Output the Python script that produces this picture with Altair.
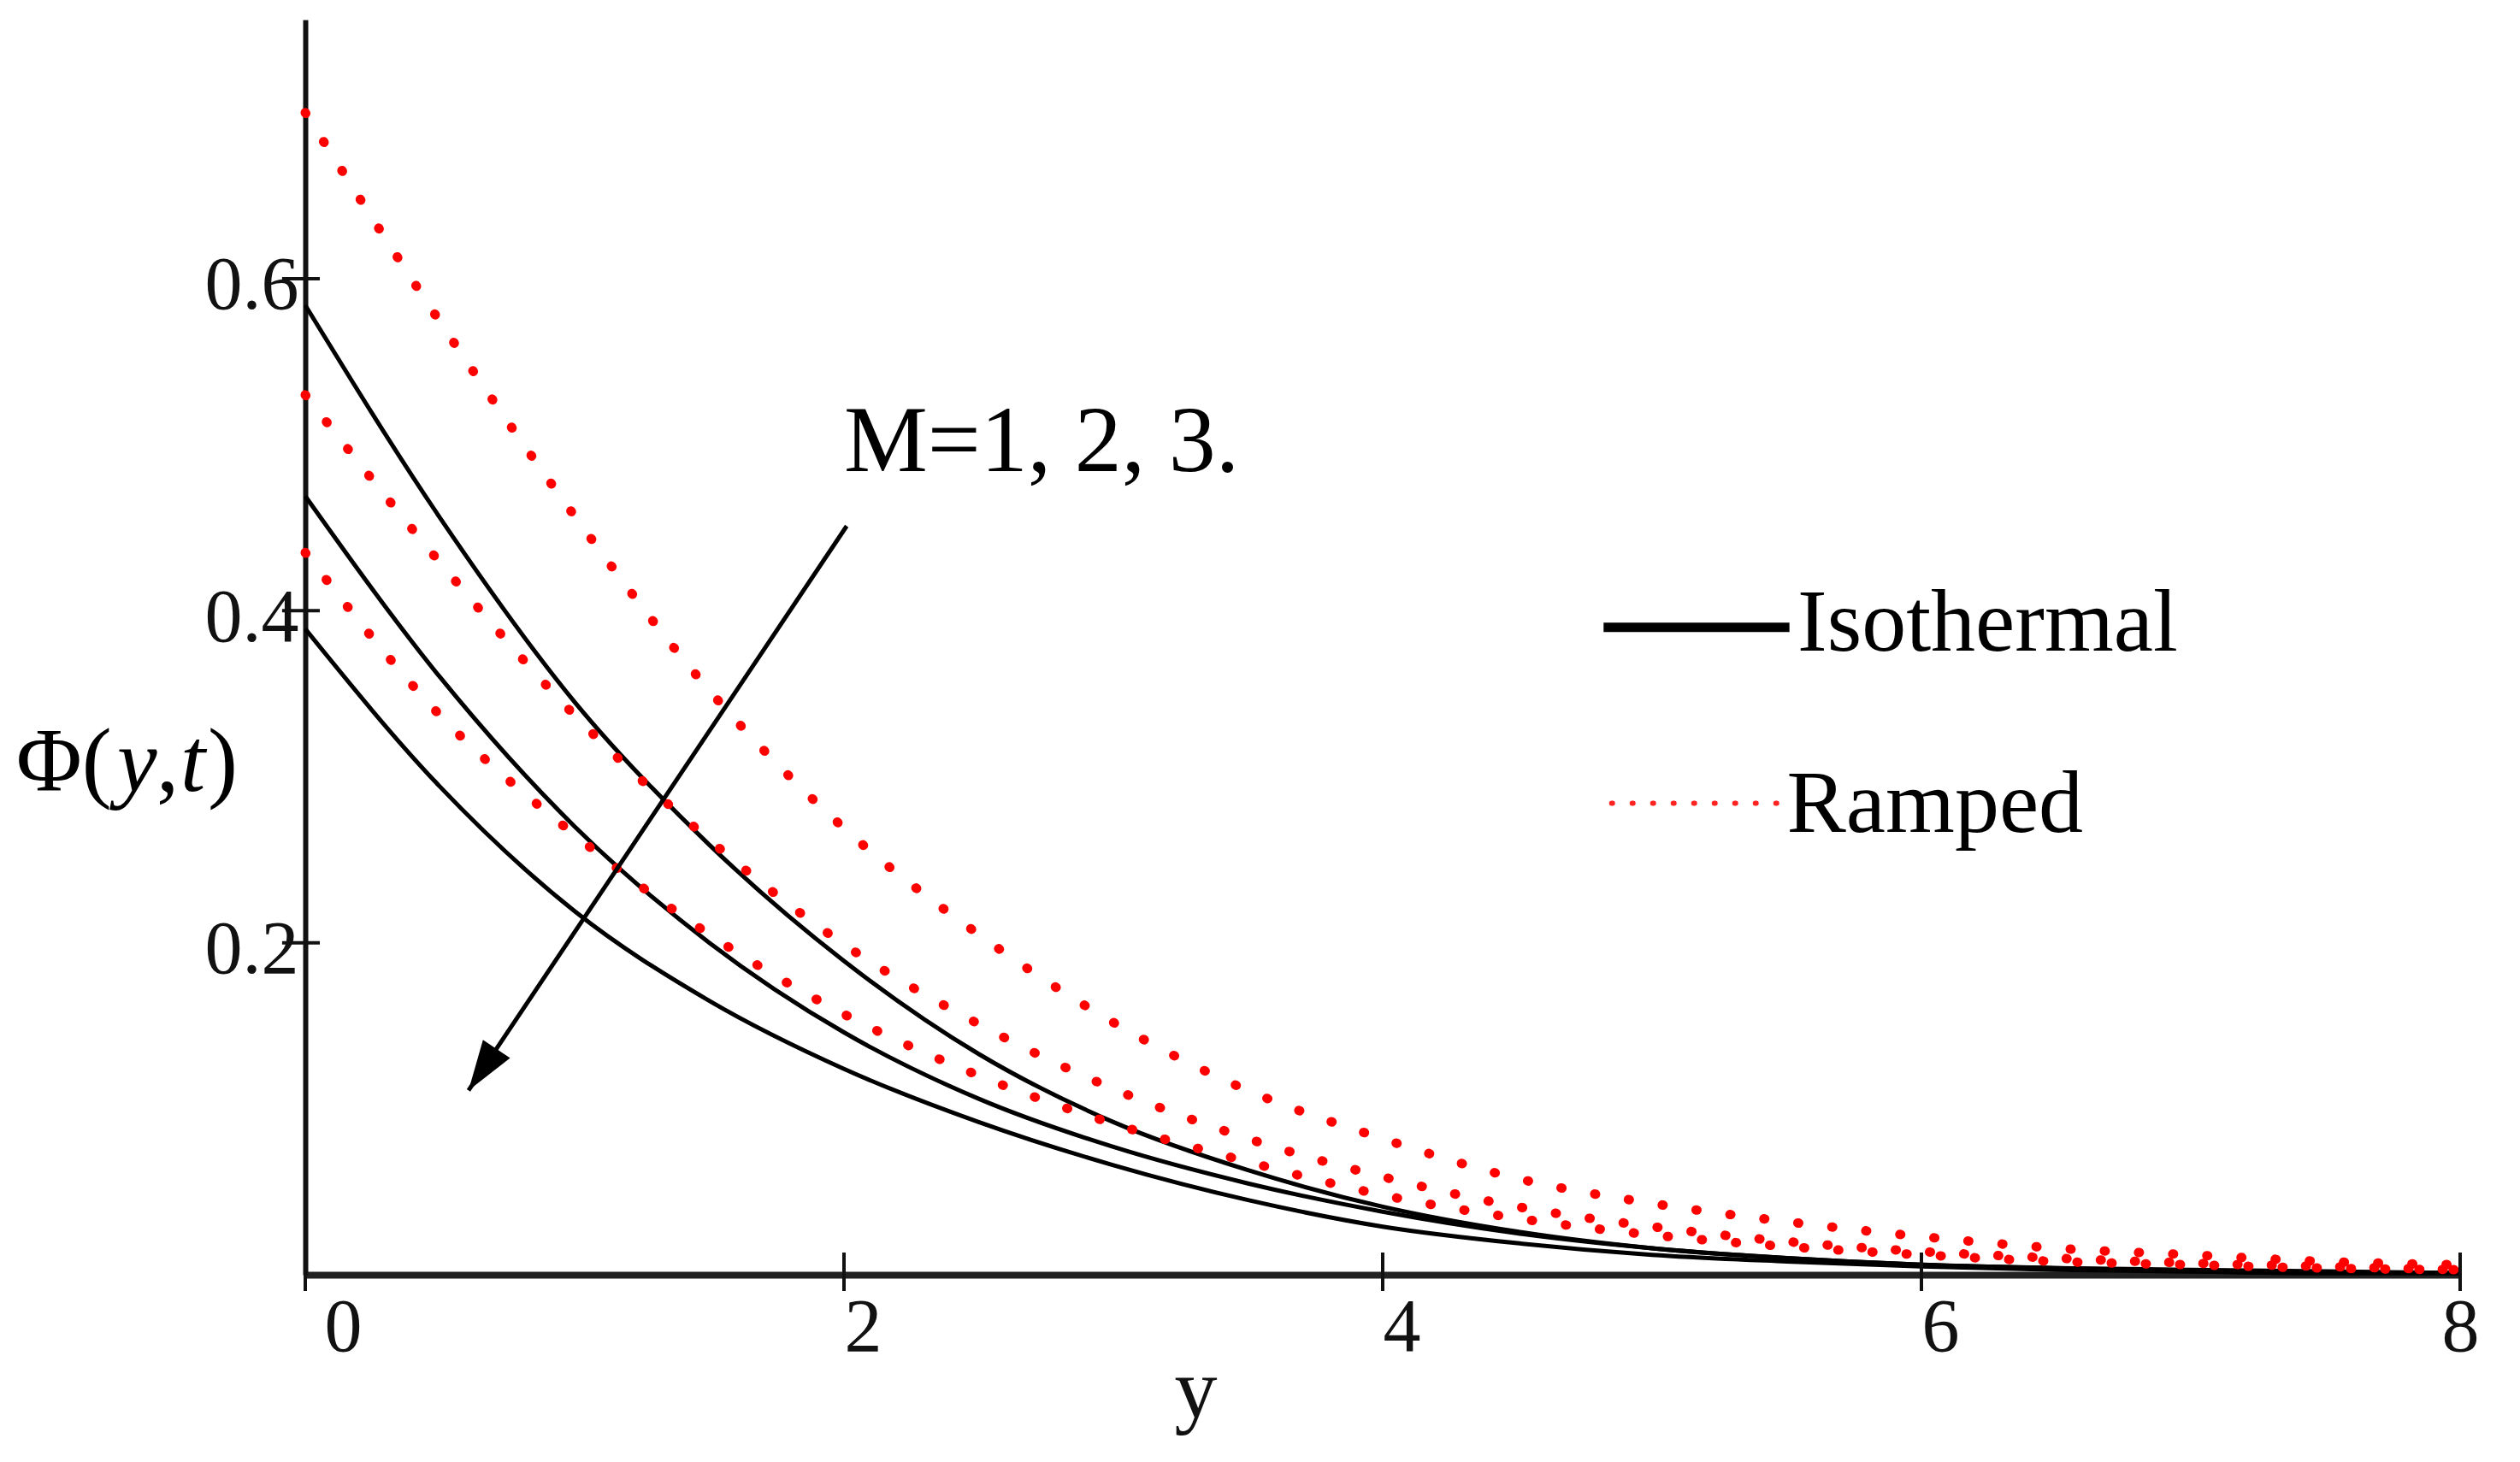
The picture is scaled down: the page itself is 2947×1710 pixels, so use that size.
import altair as alt
import pandas as pd

# ---- data ----
y_vals = [0, 0.5, 1, 1.5, 2, 2.5, 3, 3.5, 4, 4.5, 5, 5.5, 6, 6.5, 7, 7.5, 8]

iso_m1 = [0.584, 0.456, 0.345, 0.259, 0.189, 0.133, 0.092, 0.063, 0.041, 0.026, 0.016, 0.010, 0.006, 0.004, 0.003, 0.002, 0.001]
iso_m2 = [0.469, 0.360, 0.270, 0.200, 0.146, 0.106, 0.077, 0.055, 0.038, 0.025, 0.016, 0.010, 0.006, 0.004, 0.002, 0.001, 0.001]
iso_m3 = [0.389, 0.294, 0.219, 0.165, 0.124, 0.092, 0.066, 0.045, 0.029, 0.019, 0.012, 0.008, 0.005, 0.003, 0.002, 0.001, 0.001]

ramp_m1 = [0.700, 0.574, 0.457, 0.352, 0.269, 0.205, 0.152, 0.111, 0.082, 0.058, 0.043, 0.032, 0.023, 0.016, 0.012, 0.008, 0.006]
ramp_m2 = [0.530, 0.429, 0.337, 0.262, 0.199, 0.151, 0.112, 0.082, 0.059, 0.041, 0.029, 0.020, 0.014, 0.010, 0.007, 0.005, 0.003]
ramp_m3 = [0.435, 0.337, 0.265, 0.205, 0.157, 0.120, 0.091, 0.068, 0.048, 0.034, 0.024, 0.017, 0.012, 0.008, 0.006, 0.004, 0.003]

x_ticks = [0, 2, 4, 6, 8]
y_ticks = [0.2, 0.4, 0.6]

arrow_x = [2.01, 0.606]
arrow_y = [0.451, 0.111]

rows = []
for name, kind, vals in [("M=1", "Isothermal", iso_m1), ("M=2", "Isothermal", iso_m2), ("M=3", "Isothermal", iso_m3),
                         ("M=1", "Ramped", ramp_m1), ("M=2", "Ramped", ramp_m2), ("M=3", "Ramped", ramp_m3)]:
    for yy, v in zip(y_vals, vals):
        rows.append({"y": yy, "phi": v, "M": name, "kind": kind})
df = pd.DataFrame(rows)

FONT = "Liberation Serif"
xs = alt.Scale(domain=[0, 8], nice=False)
ys = alt.Scale(domain=[0, 0.756], nice=False)

iso = alt.Chart(df).transform_filter(alt.datum.kind == "Isothermal").mark_line(
    color="black", strokeWidth=5, interpolate="monotone"
).encode(
    x=alt.X("y:Q", scale=xs, axis=alt.Axis(
        values=x_ticks, format="d", ticks=False, grid=False, domain=True, domainColor="#222", domainWidth=8,
        labelFont=FONT, labelFontSize=88, labelColor="#111", labelOffset=22, labelPadding=18,
        title="y", titleFont=FONT, titleFontSize=100, titleFontWeight="normal", titleColor="#111",
        titleX=1041, titleY=166, titleBaseline="alphabetic", titleAlign="center")),
    y=alt.Y("phi:Q", scale=ys, axis=alt.Axis(
        values=y_ticks, format=".1f", ticks=False, grid=False, domain=True, domainColor="#111", domainWidth=6,
        labelFont=FONT, labelFontSize=88, labelColor="#111", labelOffset=9, labelPadding=8,
        title=None)),
    detail="M:N",
)

ramp = alt.Chart(df).transform_filter(alt.datum.kind == "Ramped").mark_line(
    color="#ff0000", strokeWidth=11, strokeDash=[1, 39], strokeCap="round", interpolate="monotone"
).encode(
    x=alt.X("y:Q", scale=xs),
    y=alt.Y("phi:Q", scale=ys),
    detail="M:N",
)

xt = alt.Chart(pd.DataFrame({"t": x_ticks})).mark_rule(color="#111", strokeWidth=4).encode(
    x=alt.X("t:Q", scale=xs), y=alt.datum(-0.0098), y2=alt.datum(0.0134)
)
yt = alt.Chart(pd.DataFrame({"t": y_ticks})).mark_rule(color="#111", strokeWidth=4).encode(
    y=alt.Y("t:Q", scale=ys), x=alt.datum(-0.086), x2=alt.datum(0.054)
)

arrow_df = pd.DataFrame({"ax": arrow_x, "ay": arrow_y, "o": [0, 1]})
arrow_line = alt.Chart(arrow_df).mark_line(color="black", strokeWidth=5).encode(
    x=alt.X("ax:Q", scale=xs), y=alt.Y("ay:Q", scale=ys), order="o:Q"
)
arrow_head = alt.Chart(arrow_df).transform_filter(alt.datum.o == 1).mark_point(
    shape="M0,0L-0.75,2.3L0.75,2.3Z", filled=True, color="black", opacity=1, size=2600, angle=214
).encode(x=alt.X("ax:Q", scale=xs), y=alt.Y("ay:Q", scale=ys))

m_text = alt.Chart().mark_text(text="M=1, 2, 3.", font=FONT, fontSize=110, align="left",
                                baseline="alphabetic", color="black").encode(
    x=alt.datum(2.0), y=alt.datum(0.484))

leg_iso_line = alt.Chart().mark_rule(color="black", strokeWidth=11).encode(
    x=alt.datum(4.82), x2=alt.datum(5.51), y=alt.datum(0.390))
leg_ramp_line = alt.Chart().mark_rule(color="#ff2222", strokeWidth=6, strokeDash=[1, 23], strokeCap="round").encode(
    x=alt.datum(4.85), x2=alt.datum(5.50), y=alt.datum(0.284))
leg_iso_text = alt.Chart().mark_text(text="Isothermal", font=FONT, fontSize=104, align="left",
                                     baseline="alphabetic", color="black").encode(
    x=alt.datum(5.54), y=alt.datum(0.376))
leg_ramp_text = alt.Chart().mark_text(text="Ramped", font=FONT, fontSize=104, align="left",
                                      baseline="alphabetic", color="black").encode(
    x=alt.datum(5.50), y=alt.datum(0.267))

# y-axis title pieces: Φ( y , t )
pieces = [("Φ(", -338, "normal"), ("y", -220, "italic"), (",", -174, "normal"),
          ("t", -146, "italic"), (")", -114, "normal")]
title_layers = []
for txt, px, style in pieces:
    title_layers.append(
        alt.Chart().mark_text(text=txt, font=FONT, fontSize=105, fontStyle=style, align="left",
                              baseline="alphabetic", color="black").encode(
            x=alt.value(px), y=alt.value(902))
    )

chart = alt.layer(
    iso, ramp, xt, yt, arrow_line, arrow_head, m_text,
    leg_iso_line, leg_ramp_line, leg_iso_text, leg_ramp_text, *title_layers
).properties(
    width=2520, height=1468,
    padding={"left": 349, "top": 15, "right": 40, "bottom": 210},
    autosize=alt.AutoSizeParams(type="none"),
    background="white",
).configure_view(stroke=None)

chart.save("out.html", embed_options={"renderer": "svg", "actions": False})
